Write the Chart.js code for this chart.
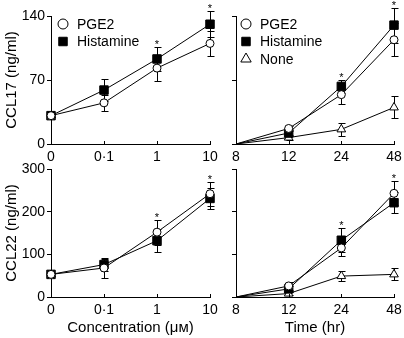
<!DOCTYPE html>
<html>
<head>
<meta charset="utf-8">
<script src="https://cdn.jsdelivr.net/npm/chart.js@4.4.1/dist/chart.umd.min.js"></script>
<style>
  body { margin: 0; background: #fff; }
  #wrap { position: relative; width: 404px; height: 338px; }
  canvas { position: absolute; left: 0; top: 0; }
</style>
</head>
<body>
<div id="wrap">
  <canvas id="ccl17Dose" width="404" height="338"></canvas>
  <canvas id="ccl17Time" width="404" height="338"></canvas>
  <canvas id="ccl22Dose" width="404" height="338"></canvas>
  <canvas id="ccl22Time" width="404" height="338"></canvas>
</div>
<script>
// Etiquetas de los ejes
const doseLabels = ['0', '0·1', '1', '10'];
const timeLabels = ['8', '12', '24', '48'];

// CCL17 - concentración
const ccl17DosePge2 = [31, 45, 83, 110];
const ccl17DosePge2Err = [2, 9, 14, 14];
const ccl17DoseHist = [31, 59, 93, 131];
const ccl17DoseHistErr = [2, 12, 13, 14];
const ccl17DoseStars = [false, false, true, true];

// CCL17 - tiempo
const ccl17TimePge2 = [0, 17, 54, 114];
const ccl17TimePge2Err = [0, 3, 10, 18];
const ccl17TimeHist = [0, 12, 63, 130];
const ccl17TimeHistErr = [0, 3, 7, 19];
const ccl17TimeNone = [0, 7, 16, 40];
const ccl17TimeNoneErr = [0, 3, 7, 12];
const ccl17TimeStars = [false, false, true, true];

// CCL22 - concentración
const ccl22DosePge2 = [53, 68, 152, 242];
const ccl22DosePge2Err = [3, 23, 29, 28];
const ccl22DoseHist = [53, 76, 132, 231];
const ccl22DoseHistErr = [3, 14, 27, 25];
const ccl22DoseStars = [false, false, true, true];

// CCL22 - tiempo
const ccl22TimePge2 = [0, 26, 115, 243];
const ccl22TimePge2Err = [0, 10, 19, 28];
const ccl22TimeHist = [0, 19, 133, 221];
const ccl22TimeHistErr = [0, 6, 28, 25];
const ccl22TimeNone = [0, 8, 49, 53];
const ccl22TimeNoneErr = [0, 4, 12, 14];
const ccl22TimeStars = [false, false, true, true];

const FONT = 'Liberation Sans, Arial, sans-serif';

// Estilos de las series
function pge2(data, errors, radius) {
    return { label: 'PGE2', data, errors, pointStyle: 'circle', pointRadius: radius,
        pointBackgroundColor: '#fff', pointBorderColor: '#000', pointBorderWidth: 1,
        borderColor: '#000', borderWidth: 1, tension: 0 };
}
function hist(data, errors, radius) {
    return { label: 'Histamine', data, errors, pointStyle: 'rect',
        pointRadius: radius.map(r => r ? 6 : 0),
        pointBackgroundColor: '#000', pointBorderColor: '#000', pointBorderWidth: 1,
        borderColor: '#000', borderWidth: 1, tension: 0 };
}
function none(data, errors, radius) {
    return { label: 'None', data, errors, pointStyle: 'triangle',
        pointRadius: radius.map(r => r ? 5 : 0),
        pointBackgroundColor: '#fff', pointBorderColor: '#000', pointBorderWidth: 1,
        borderColor: '#000', borderWidth: 1, tension: 0 };
}

// Barras de error (detrás de los marcadores)
const errorBars = {
    id: 'errorBars',
    beforeDatasetsDraw(chart) {
        const ctx = chart.ctx;
        const y = chart.scales.y;
        ctx.save();
        ctx.strokeStyle = '#000';
        ctx.lineWidth = 1;
        chart.data.datasets.forEach((ds, i) => {
            const meta = chart.getDatasetMeta(i);
            meta.data.forEach((pt, j) => {
                const e = ds.errors[j];
                if (!e) return;
                const x = Math.round(pt.x) + 0.5;
                const top = Math.round(y.getPixelForValue(ds.data[j] + e)) + 0.5;
                const bot = Math.round(y.getPixelForValue(ds.data[j] - e)) + 0.5;
                ctx.beginPath();
                ctx.moveTo(x, top); ctx.lineTo(x, bot);
                ctx.moveTo(x - 3, top); ctx.lineTo(x + 4, top);
                ctx.moveTo(x - 3, bot); ctx.lineTo(x + 4, bot);
                ctx.stroke();
            });
        });
        ctx.restore();
    }
};

// Asteriscos de significancia, encima de la barra de error más alta
const stars = {
    id: 'stars',
    afterDatasetsDraw(chart, args, opts) {
        if (!opts.flags) return;
        const ctx = chart.ctx;
        const x = chart.scales.x;
        const y = chart.scales.y;
        ctx.save();
        ctx.fillStyle = '#000';
        ctx.font = '11px ' + FONT;
        ctx.textAlign = 'center';
        ctx.textBaseline = 'alphabetic';
        opts.flags.forEach((on, j) => {
            if (!on) return;
            const tops = chart.data.datasets.map(ds => ds.data[j] + ds.errors[j]);
            const py = y.getPixelForValue(Math.max(...tops));
            ctx.fillText('*', x.getPixelForTick(j), py + 1);
        });
        ctx.restore();
    }
};

// Marcas del eje x hacia adentro
const innerTicks = {
    id: 'innerTicks',
    afterDraw(chart) {
        const ctx = chart.ctx;
        const x = chart.scales.x;
        const b = chart.chartArea.bottom;
        ctx.save();
        ctx.strokeStyle = '#000';
        ctx.lineWidth = 1;
        ctx.beginPath();
        for (let i = 1; i < x.ticks.length; i++) {
            const px = Math.round(x.getPixelForTick(i)) + 0.5;
            ctx.moveTo(px, b);
            ctx.lineTo(px, b - 3);
        }
        ctx.stroke();
        ctx.restore();
    }
};

// Leyenda dibujada dentro del área del gráfico
const miniLegend = {
    id: 'miniLegend',
    afterDraw(chart, args, opts) {
        if (!opts.show) return;
        const ctx = chart.ctx;
        const area = chart.chartArea;
        ctx.save();
        ctx.font = '14px ' + FONT;
        ctx.textBaseline = 'middle';
        chart.data.datasets.forEach((ds, i) => {
            const cx = area.left + opts.dx;
            const cy = area.top + opts.dy + i * 17.5;
            ctx.fillStyle = ds.pointBackgroundColor;
            ctx.strokeStyle = '#000';
            ctx.lineWidth = 1;
            const r = ds.pointStyle === 'circle' ? 5 : 6;
            Chart.helpers.drawPoint(ctx, { pointStyle: ds.pointStyle, radius: r, rotation: 0, borderWidth: 1 }, cx, cy);
            ctx.fillStyle = '#000';
            ctx.fillText(ds.label, cx + 14, cy + 1);
        });
        ctx.restore();
    }
};

function makePanel(id, labels, datasets, cfg) {
    new Chart(document.getElementById(id), {
        type: 'line',
        data: { labels, datasets },
        plugins: [errorBars, stars, innerTicks, miniLegend],
        options: {
            responsive: false,
            animation: false,
            events: [],
            layout: { padding: cfg.padding },
            plugins: {
                legend: { display: false },
                tooltip: { enabled: false },
                stars: { flags: cfg.stars },
                miniLegend: { show: cfg.legend, dx: cfg.legendDx, dy: 8 }
            },
            scales: {
                x: {
                    type: 'category',
                    offset: false,
                    grid: { display: false, drawTicks: false },
                    border: { display: true, color: '#000', width: 1 },
                    ticks: { color: '#000', font: { family: FONT, size: 14 }, padding: 5, maxRotation: 0, autoSkip: false },
                    title: cfg.xTitle ? { display: true, text: cfg.xTitle, color: '#000',
                        font: { family: FONT, size: 15 }, padding: { top: 0, bottom: 1 } } : { display: false },
                    afterFit(s) { s.height = cfg.xHeight; s.paddingLeft = 0; s.paddingRight = 0; }
                },
                y: {
                    min: 0,
                    max: cfg.yMax,
                    grid: { display: true, drawOnChartArea: false, drawTicks: true, tickLength: 4, color: '#000' },
                    border: { display: true, color: '#000', width: 1 },
                    ticks: { stepSize: cfg.yStep, color: '#000', font: { family: FONT, size: 14 }, padding: 2,
                        callback: v => cfg.yLabels ? v : '' },
                    title: cfg.yTitle ? { display: true, text: cfg.yTitle, color: '#000',
                        font: { family: FONT, size: 15 }, padding: { top: 3, bottom: 0 } } : { display: false },
                    afterFit(s) { s.width = cfg.yWidth; s.paddingTop = 0; s.paddingBottom = 0; }
                }
            }
        }
    });
}

const doseR = [4, 4, 4, 4];
const timeR = [0, 4, 4, 4];

makePanel('ccl17Dose', doseLabels, [
    pge2(ccl17DosePge2, ccl17DosePge2Err, doseR),
    hist(ccl17DoseHist, ccl17DoseHistErr, doseR)
], { padding: { left: 0, top: 16, right: 194, bottom: 173 }, yWidth: 51, xHeight: 21,
     yMax: 140, yStep: 70, yLabels: true, yTitle: 'CCL17 (ng/ml)', stars: ccl17DoseStars,
     legend: true, legendDx: 12 });

makePanel('ccl17Time', timeLabels, [
    pge2(ccl17TimePge2, ccl17TimePge2Err, timeR),
    hist(ccl17TimeHist, ccl17TimeHistErr, timeR),
    none(ccl17TimeNone, ccl17TimeNoneErr, timeR)
], { padding: { left: 226, top: 16, right: 10, bottom: 173 }, yWidth: 10, xHeight: 21,
     yMax: 140, yStep: 70, yLabels: false, stars: ccl17TimeStars, legend: true, legendDx: 10 });

makePanel('ccl22Dose', doseLabels, [
    pge2(ccl22DosePge2, ccl22DosePge2Err, doseR),
    hist(ccl22DoseHist, ccl22DoseHistErr, doseR)
], { padding: { left: 0, top: 169, right: 194, bottom: 0 }, yWidth: 51, xHeight: 41,
     yMax: 300, yStep: 100, yLabels: true, yTitle: 'CCL22 (ng/ml)', xTitle: 'Concentration (μм)',
     stars: ccl22DoseStars, legend: false });

makePanel('ccl22Time', timeLabels, [
    pge2(ccl22TimePge2, ccl22TimePge2Err, timeR),
    hist(ccl22TimeHist, ccl22TimeHistErr, timeR),
    none(ccl22TimeNone, ccl22TimeNoneErr, timeR)
], { padding: { left: 226, top: 169, right: 10, bottom: 0 }, yWidth: 10, xHeight: 41,
     yMax: 300, yStep: 100, yLabels: false, xTitle: 'Time (hr)', stars: ccl22TimeStars, legend: false });
</script>
</body>
</html>
